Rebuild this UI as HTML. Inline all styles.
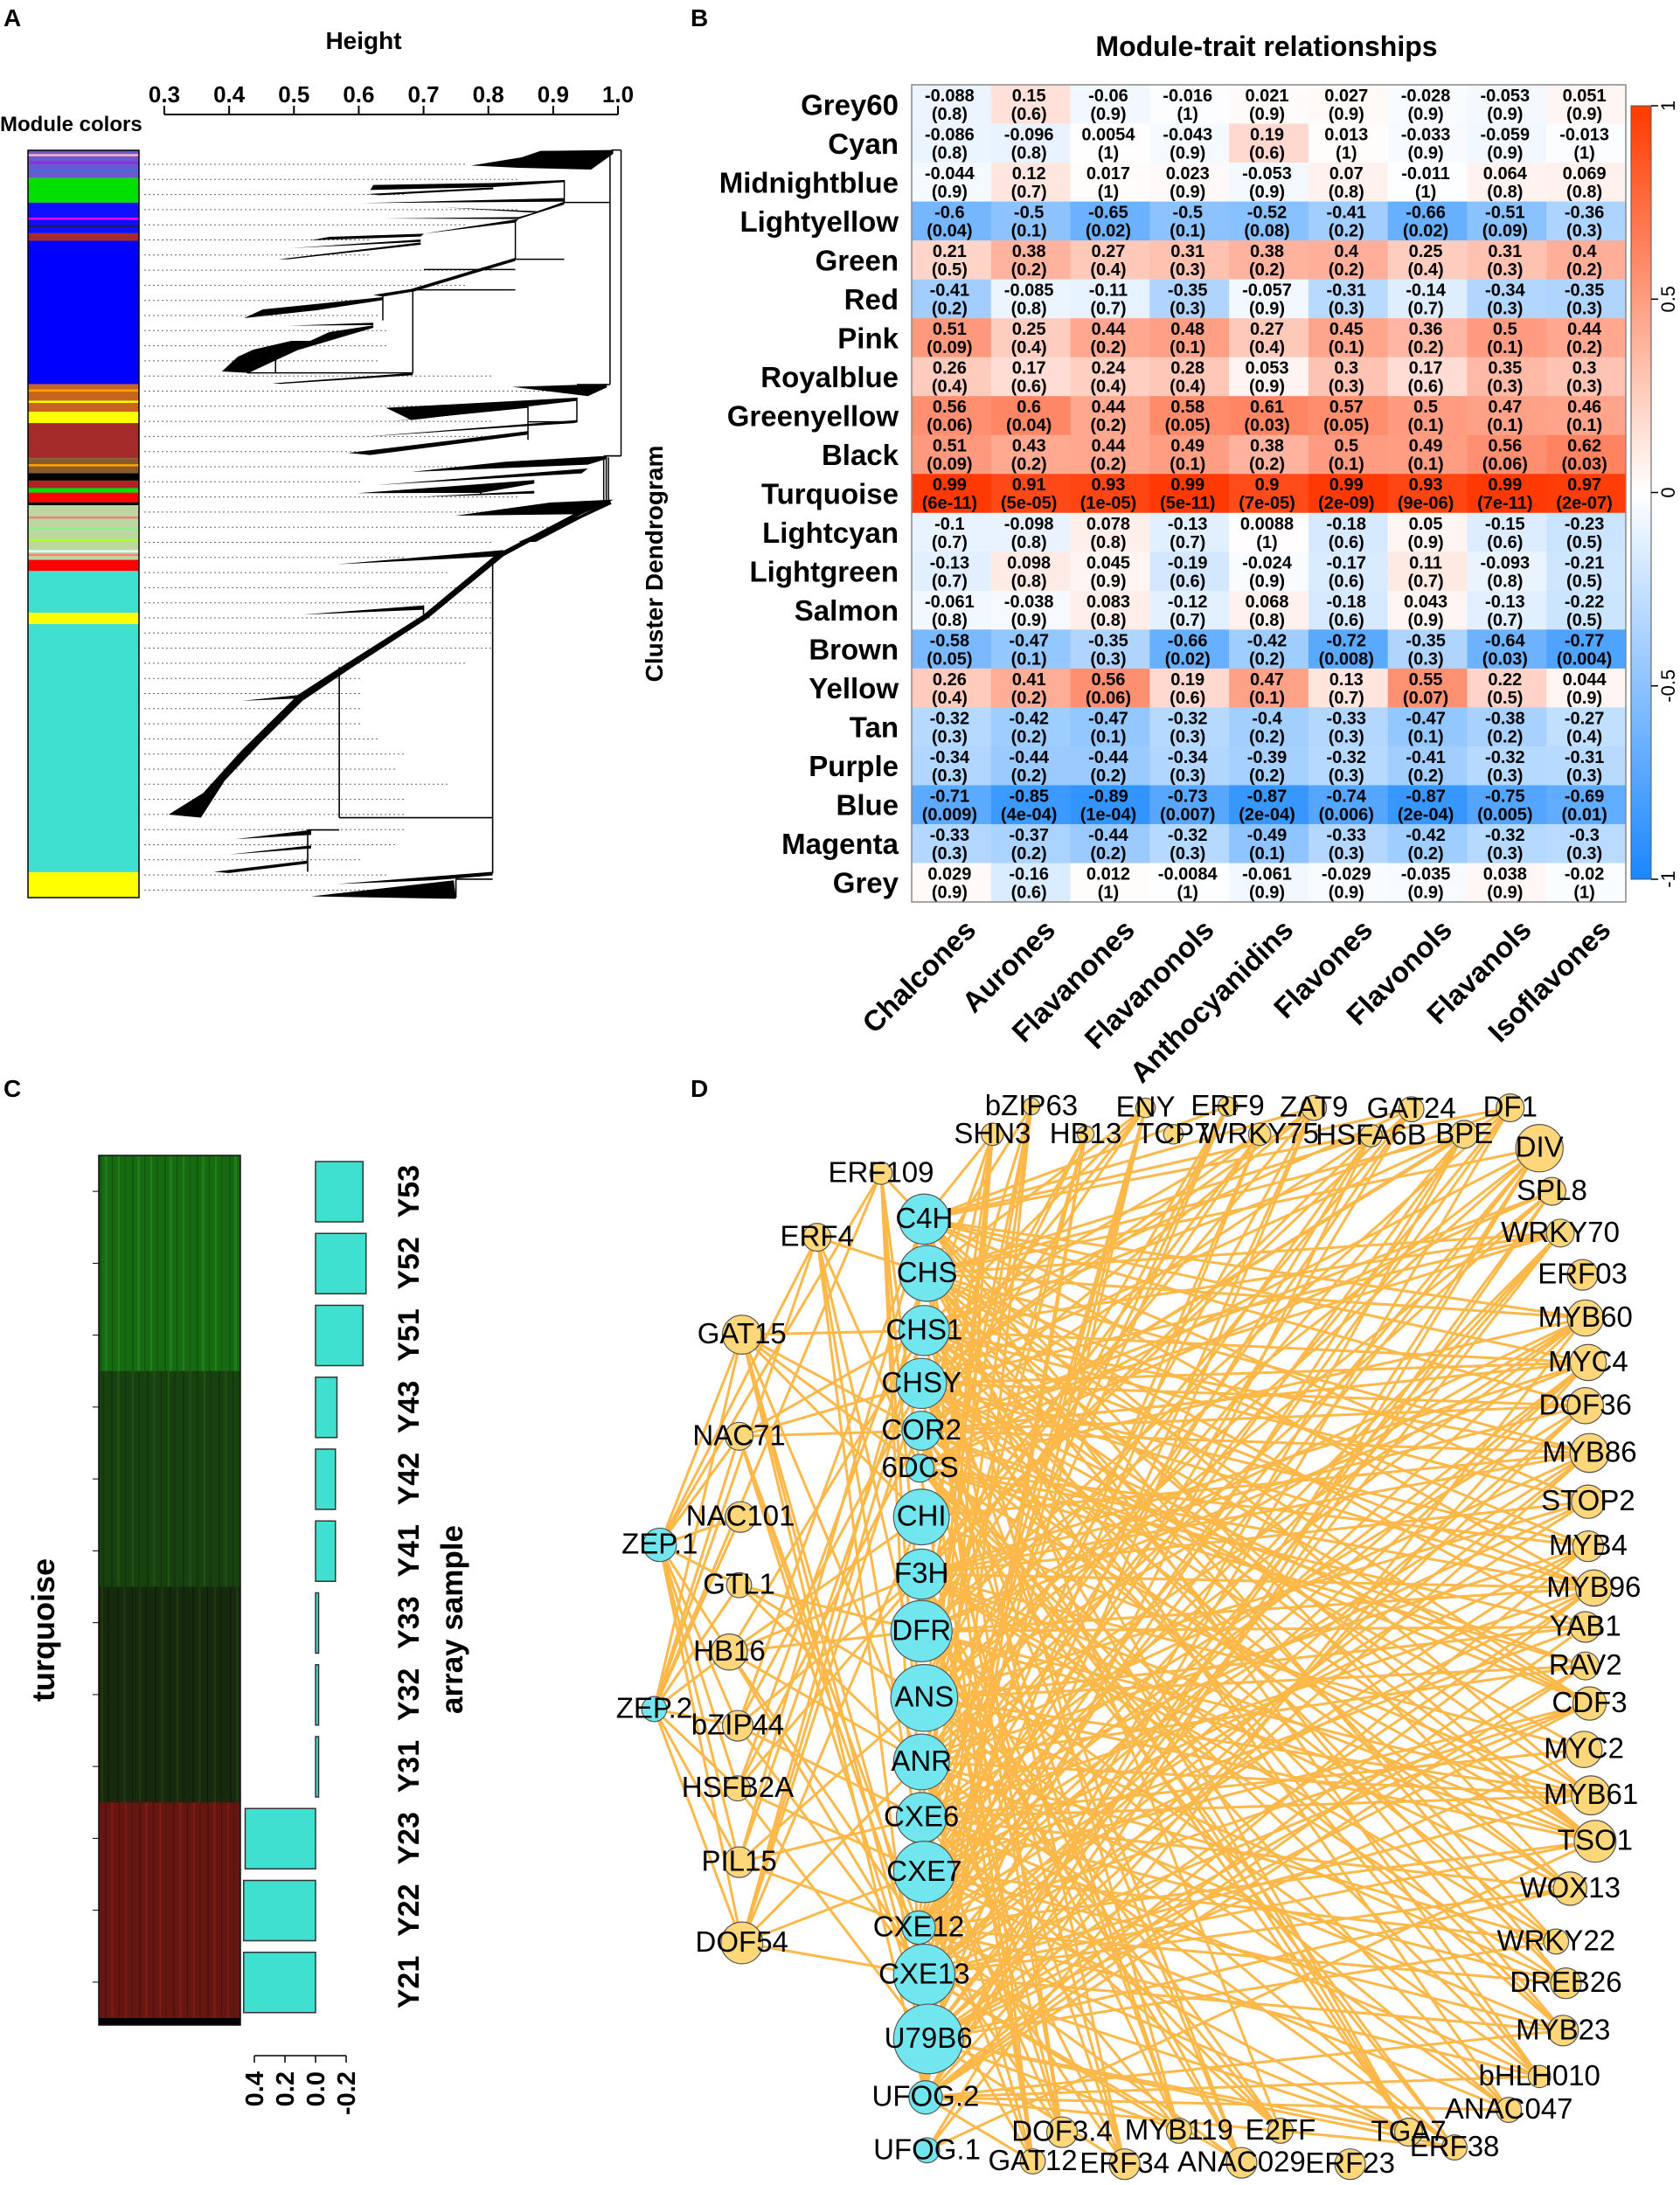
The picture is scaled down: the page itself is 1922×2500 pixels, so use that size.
<!DOCTYPE html>
<html><head><meta charset="utf-8">
<style>
html,body{margin:0;padding:0;background:#fff;}
svg{display:block;font-family:"Liberation Sans",Arial,sans-serif;}
</style></head>
<body>
<svg id="fig" width="1922" height="2500" viewBox="0 0 1922 2500" xmlns="http://www.w3.org/2000/svg">
<defs>
<linearGradient id="cbar" x1="0" y1="0" x2="0" y2="1">
<stop offset="0" stop-color="#ff3a00"/><stop offset="0.5" stop-color="#ffffff"/><stop offset="1" stop-color="#1a86ff"/>
</linearGradient>
<pattern id="stripeG1" width="37" height="10" patternUnits="userSpaceOnUse">
<rect width="37" height="10" fill="#176a12"/><rect x="3" width="2" height="10" fill="#0e5a0c"/><rect x="9" width="3" height="10" fill="#1f7c18"/><rect x="17" width="1" height="10" fill="#0c500a"/><rect x="24" width="2" height="10" fill="#228018"/><rect x="31" width="2" height="10" fill="#10600e"/>
</pattern>
<pattern id="stripeG2" width="41" height="10" patternUnits="userSpaceOnUse">
<rect width="41" height="10" fill="#17420f"/><rect x="4" width="2" height="10" fill="#10360b"/><rect x="11" width="3" height="10" fill="#1d4e13"/><rect x="20" width="1" height="10" fill="#0d300a"/><rect x="28" width="2" height="10" fill="#1f5514"/><rect x="35" width="2" height="10" fill="#12380c"/>
</pattern>
<pattern id="stripeG3" width="43" height="10" patternUnits="userSpaceOnUse">
<rect width="43" height="10" fill="#172a0e"/><rect x="5" width="2" height="10" fill="#10200a"/><rect x="12" width="3" height="10" fill="#1c3811"/><rect x="22" width="1" height="10" fill="#0c1a08"/><rect x="30" width="2" height="10" fill="#1e3a12"/><rect x="37" width="2" height="10" fill="#11240b"/>
</pattern>
<pattern id="stripeR" width="39" height="10" patternUnits="userSpaceOnUse">
<rect width="39" height="10" fill="#661610"/><rect x="3" width="2" height="10" fill="#50120c"/><rect x="10" width="3" height="10" fill="#7a1a12"/><rect x="19" width="1" height="10" fill="#4a100a"/><rect x="26" width="2" height="10" fill="#7c1c13"/><rect x="33" width="2" height="10" fill="#58140e"/>
</pattern>
</defs>

<text x="4" y="30" font-size="28" font-weight="bold">A</text>
<text x="790" y="30" font-size="28" font-weight="bold">B</text>
<text x="4" y="1255" font-size="28" font-weight="bold">C</text>
<text x="790" y="1255" font-size="28" font-weight="bold">D</text>

<g id="panelA">
<text x="416" y="56" font-size="28" font-weight="bold" text-anchor="middle">Height</text>
<text x="0" y="150" font-size="24" font-weight="bold">Module colors</text>
<g id="aAxis"></g>
<g id="colorbarA"></g>
<g id="dotted"></g>
<g id="dendroTop" transform="translate(160,160) scale(0.361,0.3333)" fill="#000" stroke="#000"></g>
<g id="dendro" transform="translate(0,-0.4) scale(0.4944,0.7037)" fill="#000" stroke="#000"></g>
<text transform="translate(758,645) rotate(-90)" font-size="28" font-weight="bold" text-anchor="middle">Cluster Dendrogram</text>
</g>

<g id="panelB">
<text x="1449" y="64" font-size="32" font-weight="bold" text-anchor="middle">Module-trait relationships</text>
<g id="cells"></g>
<g id="rowLabels"></g>
<g id="colLabels"></g>
<rect x="1043" y="97" width="817" height="935" fill="none" stroke="#888" stroke-width="1.5"/>
<rect x="1866" y="121" width="23" height="885" fill="url(#cbar)" stroke="#555" stroke-width="1"/>
<g id="cbarTicks"></g>
</g>

<g id="panelC">
<g id="heatC"></g>
<g id="barsC"></g>
<text transform="translate(62,1865) rotate(-90)" font-size="36" font-weight="bold" text-anchor="middle">turquoise</text>
<text transform="translate(529,1853) rotate(-90)" font-size="35" font-weight="bold" text-anchor="middle">array sample</text>
</g>

<g id="panelD">
<g id="edges"></g><g id="nodes"></g><g id="nlabels"></g>
</g>
</svg>
<script>
const NS="http://www.w3.org/2000/svg";
function mk(tag,attrs,parent){const e=document.createElementNS(NS,tag);for(const k in attrs)e.setAttribute(k,attrs[k]);parent.appendChild(e);return e;}

/* ---------- Panel A data ---------- */
const heightTicks=[0.3,0.4,0.5,0.6,0.7,0.8,0.9,1.0];
const moduleBands=[
[0,0.037,"#6a5acd"],[0.037,0.070,"#00e000"],[0.070,0.111,"#1010ff"],[0.111,0.121,"#a52a2a"],[0.121,0.313,"#0000ff"],
[0.313,0.350,"#c8641e"],[0.350,0.365,"#ffff00"],[0.365,0.412,"#a52a2a"],[0.412,0.432,"#8b5a2b"],[0.432,0.442,"#000000"],
[0.442,0.452,"#b22222"],[0.452,0.458,"#00e000"],[0.458,0.471,"#ff0000"],[0.471,0.475,"#000000"],[0.475,0.548,"#bcd7a0"],
[0.548,0.563,"#ff0000"],[0.563,0.619,"#40e0d0"],[0.619,0.634,"#ffff00"],[0.634,0.966,"#40e0d0"],[0.966,1,"#ffff00"]];
const mixedStripes=[[0.005,"#ffb6c1"],[0.015,"#8a2be2"],[0.025,"#4169e1"],[0.09,"#ff00ff"],[0.10,"#191970"],[0.32,"#ffa500"],[0.335,"#ffff00"],[0.42,"#ffa500"],[0.49,"#f08080"],[0.505,"#90ee90"],[0.52,"#adff2f"],[0.535,"#e0ffff"],[0.54,"#fa8072"]];
const ax=document.getElementById('aAxis');
const hx=h=>188+(h-0.3)/0.7*519;
mk('line',{x1:hx(0.3),x2:hx(1.0),y1:131,y2:131,stroke:'#000','stroke-width':2},ax);
heightTicks.forEach(h=>{mk('line',{x1:hx(h),x2:hx(h),y1:131,y2:121,stroke:'#000','stroke-width':2},ax);
 const t=mk('text',{x:hx(h),y:117,'font-size':26,'font-weight':'bold','text-anchor':'middle'},ax);t.textContent=h.toFixed(1);});
const cb=document.getElementById('colorbarA');
const cbY=f=>172+f*855;
moduleBands.forEach(b=>{const r=mk('rect',{x:32,y:cbY(b[0]),width:127,height:Math.max(1,(b[1]-b[0])*855),fill:b[2]},cb);
 });
mixedStripes.forEach(s=>mk('rect',{x:32,y:cbY(s[0]),width:127,height:2.5,fill:s[1]},cb));
mk('rect',{x:32,y:172,width:127,height:855,fill:'none',stroke:'#000','stroke-width':1.5},cb);
const dt=document.getElementById('dotted');
const dotLen=[370,430,300,430,370,260,260,400,370,270,270,280,280,270,400,500,400,400,400,250,370,250,430,440,470,400,300,350,400,400,400,400,400,370,250,250,250,250,270,300,290,350,300,300,300,290,250,280,330];
for(let i=0;i<49;i++){const y=188+i*17.3;mk('line',{x1:165,x2:165+dotLen[i],y1:y,y2:y,stroke:'#666','stroke-width':1,'stroke-dasharray':'2,3'},dt);}
const dtop=document.getElementById('dendroTop');
const topWedges=[
"1500,35 1270,38 1210,60 1050,88 1200,96 1430,102 1500,48",
"1345,138 1120,148 740,155 730,172 1120,162 1345,145",
"1120,163 720,186 760,190 1120,170",
"1345,200 705,217 1345,212",
"1345,212 1260,245 960,232 1250,250 1200,265 770,270 1200,272 1345,222",
"1200,272 1030,300 900,322 1190,284",
"900,322 600,333 540,345 890,332",
"890,342 475,372 890,350",
"890,352 440,410 470,410 890,360",
"1190,405 1050,450 860,512 740,532 770,538 870,520 1060,458 1190,416",
"770,540 390,582 330,612 560,585 770,550",
"740,628 470,638 740,636",
"740,637 600,660 540,690 480,690 360,720 310,745 260,795 345,800 420,762 500,722 740,645",
"865,800 420,836 445,838 865,808",
"1480,838 1180,848 1420,880 1480,850",
"1385,885 780,920 860,962 1385,896",
"1230,910 800,966 1230,920",
"1385,962 700,1020 1380,972",
"1230,1000 660,1075 730,1082 1230,1012",
"1480,1085 1160,1105 860,1140 1420,1115 1480,1095",
"1420,1128 750,1185 1400,1145",
"1250,1168 690,1213 1080,1212 1250,1180",
"1250,1205 880,1226 1250,1214",
"1500,1235 1300,1245 1000,1290 1400,1285 1480,1248",
"1490,1240 1390,1292 1200,1380 1255,1380 1400,1298 1495,1250"];
topWedges.forEach(p=>{const e=mk('polygon',{points:p,stroke:'none'},dtop);});
const topV=[[1525,35,1085],[1490,40,840],[1345,138,215],[1190,275,410],[865,515,800],[770,535,620],[430,745,800],[1385,885,970],[1230,905,1030],[1470,1090,1245],[1478,1090,1245],[1485,1090,1245],[1080,1190,1215]];
topV.forEach(v=>mk('line',{x1:v[0],x2:v[0],y1:v[1],y2:v[2],'stroke-width':1.5,'vector-effect':'non-scaling-stroke'},dtop));
const topH=[[1495,1525,35],[1480,1525,1085],[1345,1490,215],[1190,1345,410],[900,1190,445],[865,1190,515],[340,430,800],[430,865,800],[1385,1490,840],[1230,1385,968],[1470,1525,1085]];
topH.forEach(h=>mk('line',{x1:h[0],x2:h[1],y1:h[2],y2:h[2],'stroke-width':1.5,'vector-effect':'non-scaling-stroke'},dtop));
const dg=document.getElementById('dendro');
const wedges=[
"1385,815 1160,898 1165,905 1390,820","1165,895 830,915 780,918 1160,905",
"1160,895 980,1000 800,1080 690,1130 560,1220 470,1290 390,1325 465,1330 520,1270 600,1210 700,1140 810,1088 990,1006 1165,905",
"980,985 700,1000 980,992","700,1130 560,1140 700,1136","720,1350 545,1365 720,1358","720,1375 530,1390 720,1380","710,1400 495,1418 530,1420 710,1405",
"1140,1418 780,1438 1000,1432 1140,1424","1050,1432 720,1458 1055,1462"];
wedges.forEach(p=>{const e=mk('polygon',{points:p,stroke:'none'},dg);});
const vlines=[[1140,918,1420],[785,1085,1330],[712,1350,1418],[980,985,1000],[1055,1430,1460]];
vlines.forEach(v=>mk('line',{x1:v[0],x2:v[0],y1:v[1],y2:v[2],'stroke-width':1.6,'vector-effect':'non-scaling-stroke'},dg));
const hlines=[[785,1140,1330],[712,785,1350],[1055,1140,1430]];
hlines.forEach(h=>mk('line',{x1:h[0],x2:h[1],y1:h[2],y2:h[2],'stroke-width':1.6,'vector-effect':'non-scaling-stroke'},dg));

/* ---------- Panel B data ---------- */
const modules=["Grey60","Cyan","Midnightblue","Lightyellow","Green","Red","Pink","Royalblue","Greenyellow","Black","Turquoise","Lightcyan","Lightgreen","Salmon","Brown","Yellow","Tan","Purple","Blue","Magenta","Grey"];
const traits=["Chalcones","Aurones","Flavanones","Flavanonols","Anthocyanidins","Flavones","Flavonols","Flavanols","Isoflavones"];
const corr=[
["-0.088","0.15","-0.06","-0.016","0.021","0.027","-0.028","-0.053","0.051"],
["-0.086","-0.096","0.0054","-0.043","0.19","0.013","-0.033","-0.059","-0.013"],
["-0.044","0.12","0.017","0.023","-0.053","0.07","-0.011","0.064","0.069"],
["-0.6","-0.5","-0.65","-0.5","-0.52","-0.41","-0.66","-0.51","-0.36"],
["0.21","0.38","0.27","0.31","0.38","0.4","0.25","0.31","0.4"],
["-0.41","-0.085","-0.11","-0.35","-0.057","-0.31","-0.14","-0.34","-0.35"],
["0.51","0.25","0.44","0.48","0.27","0.45","0.36","0.5","0.44"],
["0.26","0.17","0.24","0.28","0.053","0.3","0.17","0.35","0.3"],
["0.56","0.6","0.44","0.58","0.61","0.57","0.5","0.47","0.46"],
["0.51","0.43","0.44","0.49","0.38","0.5","0.49","0.56","0.62"],
["0.99","0.91","0.93","0.99","0.9","0.99","0.93","0.99","0.97"],
["-0.1","-0.098","0.078","-0.13","0.0088","-0.18","0.05","-0.15","-0.23"],
["-0.13","0.098","0.045","-0.19","-0.024","-0.17","0.11","-0.093","-0.21"],
["-0.061","-0.038","0.083","-0.12","0.068","-0.18","0.043","-0.13","-0.22"],
["-0.58","-0.47","-0.35","-0.66","-0.42","-0.72","-0.35","-0.64","-0.77"],
["0.26","0.41","0.56","0.19","0.47","0.13","0.55","0.22","0.044"],
["-0.32","-0.42","-0.47","-0.32","-0.4","-0.33","-0.47","-0.38","-0.27"],
["-0.34","-0.44","-0.44","-0.34","-0.39","-0.32","-0.41","-0.32","-0.31"],
["-0.71","-0.85","-0.89","-0.73","-0.87","-0.74","-0.87","-0.75","-0.69"],
["-0.33","-0.37","-0.44","-0.32","-0.49","-0.33","-0.42","-0.32","-0.3"],
["0.029","-0.16","0.012","-0.0084","-0.061","-0.029","-0.035","0.038","-0.02"]];
const pvals=[
["0.8","0.6","0.9","1","0.9","0.9","0.9","0.9","0.9"],
["0.8","0.8","1","0.9","0.6","1","0.9","0.9","1"],
["0.9","0.7","1","0.9","0.9","0.8","1","0.8","0.8"],
["0.04","0.1","0.02","0.1","0.08","0.2","0.02","0.09","0.3"],
["0.5","0.2","0.4","0.3","0.2","0.2","0.4","0.3","0.2"],
["0.2","0.8","0.7","0.3","0.9","0.3","0.7","0.3","0.3"],
["0.09","0.4","0.2","0.1","0.4","0.1","0.2","0.1","0.2"],
["0.4","0.6","0.4","0.4","0.9","0.3","0.6","0.3","0.3"],
["0.06","0.04","0.2","0.05","0.03","0.05","0.1","0.1","0.1"],
["0.09","0.2","0.2","0.1","0.2","0.1","0.1","0.06","0.03"],
["6e-11","5e-05","1e-05","5e-11","7e-05","2e-09","9e-06","7e-11","2e-07"],
["0.7","0.8","0.8","0.7","1","0.6","0.9","0.6","0.5"],
["0.7","0.8","0.9","0.6","0.9","0.6","0.7","0.8","0.5"],
["0.8","0.9","0.8","0.7","0.8","0.6","0.9","0.7","0.5"],
["0.05","0.1","0.3","0.02","0.2","0.008","0.3","0.03","0.004"],
["0.4","0.2","0.06","0.6","0.1","0.7","0.07","0.5","0.9"],
["0.3","0.2","0.1","0.3","0.2","0.3","0.1","0.2","0.4"],
["0.3","0.2","0.2","0.3","0.2","0.3","0.2","0.3","0.3"],
["0.009","4e-04","1e-04","0.007","2e-04","0.006","2e-04","0.005","0.01"],
["0.3","0.2","0.2","0.3","0.1","0.3","0.2","0.3","0.3"],
["0.9","0.6","1","1","0.9","0.9","0.9","0.9","1"]];
const scaleTicks=["1","0.5","0","-0.5","-1"];
const HX0=1043,HY0=97,CW=817/traits.length,RH=935/modules.length;
function ccol(v){let r,g,b;if(v>=0){r=255;g=255-v*200;b=255-v*255;}else{const a=-v;r=255-a*230;g=255-a*120;b=255;}return `rgb(${Math.round(r)},${Math.round(g)},${Math.round(b)})`;}
const cells=document.getElementById('cells');
modules.forEach((m,i)=>{traits.forEach((t,j)=>{
 const v=parseFloat(corr[i][j]);const x=HX0+j*CW,y=HY0+i*RH;
 const r=mk('rect',{x:x,y:y,width:CW+0.5,height:RH+0.5,fill:ccol(v)},cells);
 
 const t1=mk('text',{x:x+CW/2-2,y:y+19,'font-size':20,'font-weight':'bold','text-anchor':'middle'},cells);t1.textContent=corr[i][j];
 const t2=mk('text',{x:x+CW/2-2,y:y+40,'font-size':20,'font-weight':'bold','text-anchor':'middle'},cells);t2.textContent='('+pvals[i][j]+')';
});
 const l=mk('text',{x:1028,y:HY0+i*RH+RH/2+12,'font-size':33,'font-weight':'bold','text-anchor':'end'},document.getElementById('rowLabels'));
 l.textContent=m;
});
traits.forEach((t,j)=>{const cx=HX0+j*CW+CW/2+30;
 const l=mk('text',{transform:`translate(${cx},1066) rotate(-45)`,'font-size':33,'font-weight':'bold','text-anchor':'end'},document.getElementById('colLabels'));
 l.textContent=t;});
const ct=document.getElementById('cbarTicks');
scaleTicks.forEach((s,i)=>{const y=121+i*885/4;mk('line',{x1:1889,x2:1897,y1:y,y2:y,stroke:'#000','stroke-width':1.5},ct);
 const t=mk('text',{transform:`translate(1916,${y}) rotate(-90)`,'font-size':22,'text-anchor':'middle'},ct);t.textContent=s;});

/* ---------- Panel C data ---------- */
const samples=["Y53","Y52","Y51","Y43","Y42","Y41","Y33","Y32","Y31","Y23","Y22","Y21"];
const eigenValues=[-0.31,-0.33,-0.31,-0.14,-0.13,-0.13,-0.02,-0.02,-0.02,0.46,0.47,0.47];
const barTicks=["0.4","0.2","0.0","-0.2"];
const barTickVals=[0.4,0.2,0.0,-0.2];
const fills=["stripeG1","stripeG1","stripeG1","stripeG2","stripeG2","stripeG2","stripeG3","stripeG3","stripeG3","stripeR","stripeR","stripeR"];
const CY0=1322,CRH=82.25;const bx=v=>361-v*175;
const hc=document.getElementById('heatC'),bc=document.getElementById('barsC');
samples.forEach((s,i)=>{const y=CY0+i*CRH;
 const r=mk('rect',{x:113,y:y,width:162,height:CRH+0.5,fill:`url(#${fills[i]})`},hc);
 
 mk('line',{x1:106,x2:113,y1:y+CRH/2,y2:y+CRH/2,stroke:'#000','stroke-width':1},hc);
 const v=eigenValues[i];const b=mk('rect',{x:Math.min(bx(0),bx(v)),y:y+7,width:Math.abs(bx(v)-bx(0)),height:69,fill:'#40e0d0',stroke:'#333','stroke-width':1.5},bc);
 
 const l=mk('text',{transform:`translate(479,${y+CRH/2}) rotate(-90)`,'font-size':34,'font-weight':'bold','text-anchor':'middle'},bc);l.textContent=s;
});
mk('rect',{x:113,y:2309,width:162,height:8,fill:'#000'},hc);
mk('rect',{x:113,y:1322,width:162,height:995,fill:'none',stroke:'#111','stroke-width':1.5},hc);
mk('line',{x1:bx(0.4),x2:bx(-0.2),y1:2352,y2:2352,stroke:'#000','stroke-width':1.5},bc);
barTicks.forEach((s,i)=>{const x=bx(barTickVals[i]);mk('line',{x1:x,x2:x,y1:2352,y2:2360,stroke:'#000','stroke-width':1.5},bc);
 const t=mk('text',{transform:`translate(${x+10},2370) rotate(-90)`,'font-size':29,'font-weight':'bold','text-anchor':'end'},bc);t.textContent=s;});

/* ---------- Panel D data (display coords, scaled by 1.5924) ---------- */
const S=1.5924;
const targets=[["C4H",664,876,18],["CHS",666,915,20],["CHS1",664,956,18],["CHSY",662,994,18],["COR2",662,1028,14],["6DCS",661,1055,10],["CHI",662,1090,20],["F3H",662,1131,18],["DFR",662,1172,22],["ANS",664,1220,24],["ANR",662,1266,20],["CXE6",662,1306,18],["CXE7",664,1345,22],["CXE12",660,1385,12],["CXE13",664,1419,22],["U79B6",667,1465,25],["UFOG.2",665,1507,12],["UFOG.1",666,1545,9],["ZEP.1",474,1110,12],["ZEP.2",470,1228,9]];
const regulators=[["ERF109",633,843,8],["ERF4",587,889,10],["GAT15",533,959,14],["NAC71",531,1032,10],["NAC101",532,1090,11],["GTL1",531,1139,9],["HB16",524,1187,13],["bZIP44",530,1240,11],["HSFB2A",530,1285,9],["PIL15",531,1338,11],["DOF54",533,1396,15],
["SHN3",713,815,8],["bZIP63",741,795,6],["HB13",780,815,6],["ENY",823,796,7],["TCP7",843,815,7],["ERF9",882,795,7],["WRKY75",905,815,8],["ZAT9",944,796,9],["HSFA6B",985,816,8],["GAT24",1014,797,9],["BPE",1052,815,10],["DF1",1085,796,10],["DIV",1106,825,17],
["SPL8",1115,856,10],["WRKY70",1121,886,10],["ERF03",1137,916,11],["MYB60",1139,947,13],["MYC4",1141,979,13],["DOF36",1139,1010,13],["MYB86",1142,1044,14],["STOP2",1141,1079,12],["MYB4",1141,1111,11],["MYB96",1145,1141,13],["YAB1",1139,1169,11],["RAV2",1139,1197,10],["CDF3",1142,1224,12],["MYC2",1138,1257,13],["MYB61",1143,1290,14],["TSO1",1146,1323,15],["WOX13",1128,1357,12],["WRKY22",1118,1395,9],["DREB26",1125,1425,11],["MYB23",1123,1459,11],["bHLH010",1106,1492,8],["ANAC047",1084,1516,9],["ERF38",1045,1543,9],
["TGA7",1012,1532,10],["ERF23",970,1555,11],["E2FF",920,1531,9],["ANAC029",892,1554,11],["MYB119",847,1531,9],["ERF34",808,1555,11],["DOF3.4",763,1532,11],["GAT12",742,1553,9]];
const eg=document.getElementById('edges'),ng=document.getElementById('nodes'),lg=document.getElementById('nlabels');
regulators.forEach((r,i)=>{const left=i<11;
 targets.forEach((t,j)=>{let on;
  if(j>=18) on=left;
  else on=((i*5+j*7+i*j)%11)<(left?3:4) || (r[3]>=13 && (i+j)%4==0);
  if(on){const e=mk('line',{x1:r[1]*S,y1:r[2]*S,x2:t[1]*S,y2:t[2]*S,stroke:'#fdb84a','stroke-width':3},eg);
   }
 });});
function drawNode(n,fill){const c=mk('circle',{cx:n[1]*S,cy:n[2]*S,r:n[3]*S,fill:fill,stroke:'#555','stroke-width':1.2},ng);
 
 const t=mk('text',{x:n[1]*S,y:n[2]*S+10,'font-size':33,'text-anchor':'middle'},lg);t.textContent=n[0];}
regulators.forEach(n=>drawNode(n,'#fdd77a'));
targets.forEach(n=>drawNode(n,'#72e6ee'));
</script>
</body></html>
